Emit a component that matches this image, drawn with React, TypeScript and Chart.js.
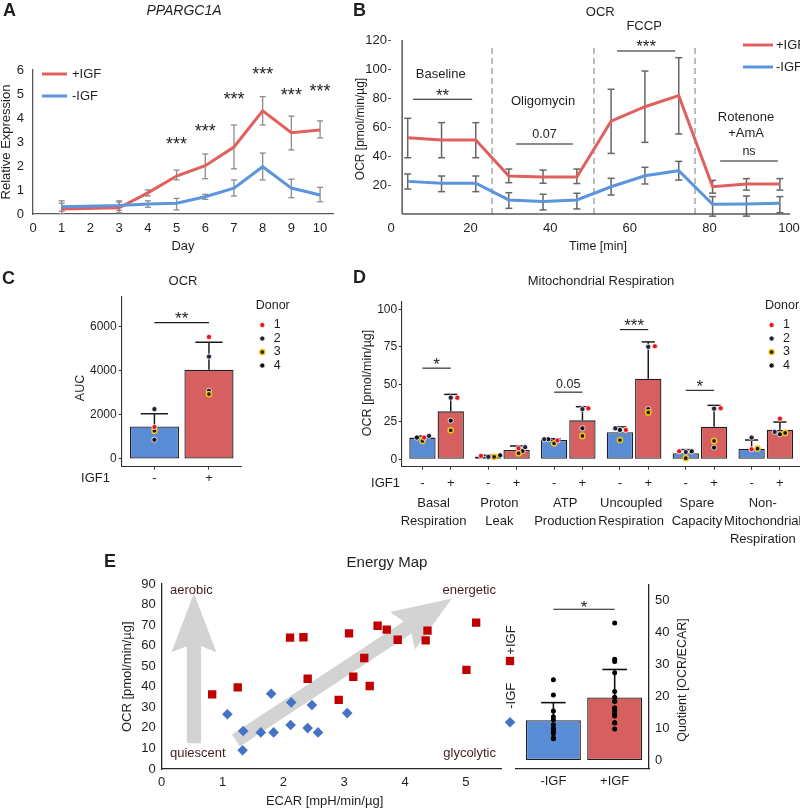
import React, { useEffect, useRef } from 'react';
import { Chart, registerables } from 'chart.js';

Chart.register(...registerables);

const FONT = 'Arial, "Liberation Sans", Helvetica, sans-serif';
const INK = '#1f1f1f';
const AXIS_GRAY = '#595959';
const LINE_RED = '#e0605e';
const LINE_BLUE = '#5b95dc';
const BAR_RED = '#d65f5f';
const BAR_BLUE = '#5a8cd6';
const BAR_EDGE = '#202020';
const SQ_RED = '#c00000';
const DIA_BLUE = '#4472c4';
const ARROW_GRAY = '#d3d3d3';
const CORNER_TXT = '#3d1f1f';

/* ---------------- Panel A : PPARGC1A ---------------- */
const aDays = [1, 3, 4, 5, 6, 7, 8, 9, 10];
const aPlus = [0.21, 0.26, 0.88, 1.58, 2.01, 2.79, 4.3, 3.39, 3.5];
const aPlusLo = [0.02, 0.05, 0.75, 1.42, 1.47, 1.88, 3.71, 2.67, 3.17];
const aPlusHi = [0.45, 0.5, 1.0, 1.83, 2.5, 3.71, 4.89, 4.08, 3.88];
const aMinus = [0.3, 0.35, 0.42, 0.45, 0.72, 1.08, 1.97, 1.08, 0.79];
const aMinusLo = [0.12, 0.15, 0.28, 0.17, 0.61, 0.75, 1.42, 0.68, 0.51];
const aMinusHi = [0.55, 0.55, 0.55, 0.65, 0.82, 1.42, 2.54, 1.45, 1.11];
const aXTicks = [0, 1, 2, 3, 4, 5, 6, 7, 8, 9, 10];
const aYTicks = [0, 1, 2, 3, 4, 5, 6];
const aStarDays = [5, 6, 7, 8, 9, 10];
const aStarLevel = [3.08, 3.63, 4.96, 6.0, 5.13, 5.29];

/* ---------------- Panel B : OCR time course ---------------- */
const bTime = [4.2, 12.7, 21.3, 29.6, 38.2, 46.7, 55.3, 63.8, 72.3, 80.8, 89.3, 97.7];
const bPlus = [52.6, 51, 51, 26.2, 25.5, 25.5, 64, 74, 81.6, 18.8, 20.7, 20.7];
const bPlusLo = [38.8, 38.8, 38.8, 21.6, 21.2, 21, 41.8, 49.4, 55.2, 14.4, 16.5, 16.5];
const bPlusHi = [66, 63, 63, 31, 30.3, 31, 86, 98.6, 107.8, 23.2, 24.4, 24.4];
const bMinus = [22.5, 21.2, 21.2, 9.7, 8.7, 9.7, 18.8, 26.4, 29.9, 6.7, 6.9, 7.4];
const bMinusLo = [17.2, 15.4, 15.4, 3.9, 2.8, 3.5, 13.1, 20.7, 23.4, -1.5, -1.5, 0.9];
const bMinusHi = [27.6, 26.2, 26.2, 14.7, 13.6, 14.3, 24.6, 32.2, 36.3, 12, 12.4, 12];
const bInjections = [25.4, 51, 76.4];
const bXTicks = [0, 20, 40, 60, 80, 100];
const bYTicks = [20, 40, 60, 80, 100, 120];
const bAxisStart = 2.8;
const bPhaseNames = ['Baseline', 'Oligomycin', 'FCCP', 'Rotenone', '+AmA'];
const bPhaseX = [12.5, 38.2, 63.6, 89.2, 89.2];
const bPhaseY = [96.6, 77.9, 129.7, 66.9, 55.9];
const bSigLabels = ['**', '0.07', '***', 'ns'];
const bSigFrom = [5.5, 31.4, 56.8, 82.7];
const bSigTo = [20.4, 45.7, 71.4, 97.2];
const bSigLevel = [79.1, 48.3, 112.4, 36.6];

/* ---------------- Donors (C, D) ---------------- */
const donors = ['1', '2', '3', '4'];
const donorFill = ['#e8161b', '#22223a', '#1a1a1a', '#111111'];
const donorRing = ['#ffffff', '#ffffff', '#f2c511', '#ffffff'];
const donorRingW = [0.8, 0.8, 1.5, 0.8];

/* ---------------- Panel C : AUC ---------------- */
const cGroups = ['-', '+'];
const cMean = [1475, 4040];
const cUpper = [2050, 5290];
const cDonorMinus = [1450, 2260, 1280, 870];
const cDonorPlus = [5530, 4640, 2940, 3090];
const cYTicks = [0, 2000, 4000, 6000];
const cSigLabel = '**';
const cSigLevel = 6180;

/* ---------------- Panel D : Mitochondrial respiration ---------------- */
const dCategories = [
  ['Basal', 'Respiration'],
  ['Proton', 'Leak'],
  ['ATP', 'Production'],
  ['Uncoupled', 'Respiration'],
  ['Spare', 'Capacity'],
  ['Non-', 'Mitochondrial', 'Respiration'],
];
const dMeanMinus = [14.4, 1.8, 12.8, 18, 4, 7];
const dUpperMinus = [15.4, 2.6, 13.6, 21.5, 6.4, 12.8];
const dMeanPlus = [31.9, 6.2, 25.9, 53.6, 21.7, 19.7];
const dUpperPlus = [43.2, 8.8, 35, 78.2, 35.9, 24.8];
const dDonorMinus = [
  [14.4, 15.5, 12.2, 14.4],
  [2.2, 1.6, 1.6, 2.6],
  [12.4, 13.3, 10.6, 13.3],
  [19.5, 20.6, 12.8, 19.5],
  [5.3, 4.8, 0.7, 5.3],
  [6.6, 14.4, 7, null],
];
const dDonorPlus = [
  [41, 41, 19.3, 25.7],
  [7.3, 8, 4, 5.5],
  [33.9, 33.4, 15.5, 20.6],
  [75.3, 74.9, 31.2, 33.4],
  [34, 33.7, 12.2, 7.7],
  [27, 18.2, 17.5, 16.6],
];
const dJitterMinus = [
  [0.026, 0.1, 0, -0.085],
  [-0.11, 0, 0.09, 0.18],
  [0.05, -0.15, 0, -0.09],
  [0.09, -0.07, 0, 0],
  [-0.1, 0, 0, 0.09],
  [0, 0, 0.09, 0],
];
const dJitterPlus = [
  [0.1, 0, 0, 0],
  [0.03, 0.13, 0.03, 0.09],
  [0.09, 0, 0, 0],
  [0.1, 0, 0, 0],
  [0.1, 0, 0, 0],
  [0, -0.08, 0.08, 0],
];
const dYTicks = [0, 25, 50, 75, 100];
const dSigGroups = [0, 2, 3, 4];
const dSigLabels = ['*', '0.05', '***', '*'];
const dSigLevel = [60.7, 44.7, 86.4, 45.9];
const D_DODGE = 0.215;

/* ---------------- Panel E : Energy map ---------------- */
const eEcarPlus = [0.83, 1.25, 2.11, 2.33, 2.4, 2.91, 3.08, 3.15, 3.33, 3.42, 3.55, 3.7, 3.88, 4.34, 4.37, 5.01, 5.17];
const eOcrPlus = [36.3, 39.7, 63.9, 64.1, 43.9, 33.6, 66.0, 44.9, 54.0, 40.4, 69.7, 67.8, 62.9, 62.6, 67.3, 48.2, 71.2];
const eEcarMinus = [1.08, 1.34, 1.33, 1.63, 1.84, 1.8, 2.12, 2.13, 2.47, 2.4, 2.57, 3.05];
const eOcrMinus = [26.6, 18.5, 9.1, 17.8, 17.8, 36.6, 21.4, 32.4, 31.1, 19.9, 17.8, 27.2];
const eXTicks = [0, 1, 2, 3, 4, 5];
const eYTicks = [0, 10, 20, 30, 40, 50, 60, 70, 80, 90];
const eArrowFromX = [0.53, 1.22];
const eArrowFromY = [12.5, 13.9];
const eArrowToX = [0.53, 4.77];
const eArrowToY = [85.5, 83.0];
const eGroups = ['-IGF', '+IGF'];
const eQuotMinus = [25.2, 20.4, 15.4, 13.6, 12.6, 11.1, 10.0, 9.7, 9.0, 8.2, 6.9, 6.7];
const eQuotPlus = [43, 31.6, 30.9, 27.4, 21.5, 19.7, 18.4, 18.4, 16.3, 16.3, 15.5, 14.5, 14.3, 13.8, 11.8, 11.6, 9.7];
const eQuotMean = [12.5, 19.6];
const eQuotUpper = [18.0, 28.4];
const eQYTicks = [0, 10, 20, 30, 40, 50];
const eSigLabel = '*';
const eSigLevel = 47.3;

/* ---------------- helpers ---------------- */
type TOpt = { size?: number; weight?: string; style?: string; align?: CanvasTextAlign; base?: CanvasTextBaseline; color?: string; rot?: number };
function txt(ctx: CanvasRenderingContext2D, s: string, x: number, y: number, o: TOpt = {}) {
  ctx.save();
  ctx.font = `${o.style || 'normal'} ${o.weight || 'normal'} ${o.size || 13}px ${FONT}`;
  ctx.fillStyle = o.color || INK;
  ctx.textAlign = o.align || 'center';
  ctx.textBaseline = o.base || 'middle';
  ctx.translate(x, y);
  if (o.rot) ctx.rotate(o.rot);
  ctx.fillText(s, 0, 0);
  ctx.restore();
}
function star(ctx: CanvasRenderingContext2D, s: string, cx: number, cy: number, size = 17) {
  txt(ctx, s, cx, cy + 0.57 * size, { size, base: 'alphabetic' });
}
function seg(ctx: CanvasRenderingContext2D, x1: number, y1: number, x2: number, y2: number, color: string, lw: number, dash?: number[]) {
  ctx.save();
  ctx.strokeStyle = color;
  ctx.lineWidth = lw;
  if (dash) ctx.setLineDash(dash);
  ctx.beginPath();
  ctx.moveTo(x1, y1);
  ctx.lineTo(x2, y2);
  ctx.stroke();
  ctx.restore();
}
function errBoth(ctx: CanvasRenderingContext2D, x: number, yTop: number, yBot: number, cap: number, color: string, lw: number) {
  seg(ctx, x, yTop, x, yBot, color, lw);
  seg(ctx, x - cap / 2, yTop, x + cap / 2, yTop, color, lw);
  seg(ctx, x - cap / 2, yBot, x + cap / 2, yBot, color, lw);
}
function errUp(ctx: CanvasRenderingContext2D, x: number, yMean: number, yTop: number, cap: number, color: string, lw: number) {
  seg(ctx, x, yMean, x, yTop, color, lw);
  seg(ctx, x - cap / 2, yTop, x + cap / 2, yTop, color, lw);
}
function sig(ctx: CanvasRenderingContext2D, label: string, x1: number, x2: number, y: number, gap: number, size = 17) {
  seg(ctx, x1, y, x2, y, '#1a1a1a', 1.1);
  if (/^\*+$/.test(label)) star(ctx, label, (x1 + x2) / 2, y - gap, size);
  else txt(ctx, label, (x1 + x2) / 2, y - gap, { size: 12.5 });
}
function arrow(ctx: CanvasRenderingContext2D, x1: number, y1: number, x2: number, y2: number, shaft: number, headLen: number, headW: number, notch: number, color: string) {
  const dx = x2 - x1, dy = y2 - y1;
  const L = Math.hypot(dx, dy);
  const ux = dx / L, uy = dy / L;
  const nx = -uy, ny = ux;
  const bx = x2 - ux * headLen, by = y2 - uy * headLen;
  const sx = bx + ux * notch, sy = by + uy * notch;
  ctx.save();
  ctx.fillStyle = color;
  ctx.beginPath();
  ctx.moveTo(x1 + nx * shaft / 2, y1 + ny * shaft / 2);
  ctx.lineTo(sx + nx * shaft / 2, sy + ny * shaft / 2);
  ctx.lineTo(bx + nx * headW / 2, by + ny * headW / 2);
  ctx.lineTo(x2, y2);
  ctx.lineTo(bx - nx * headW / 2, by - ny * headW / 2);
  ctx.lineTo(sx - nx * shaft / 2, sy - ny * shaft / 2);
  ctx.lineTo(x1 - nx * shaft / 2, y1 - ny * shaft / 2);
  ctx.closePath();
  ctx.fill();
  ctx.restore();
}
function dot(ctx: CanvasRenderingContext2D, x: number, y: number, d: number) {
  ctx.save();
  ctx.beginPath();
  ctx.arc(x, y, 2.6, 0, Math.PI * 2);
  ctx.fillStyle = donorFill[d];
  ctx.fill();
  ctx.lineWidth = donorRingW[d];
  ctx.strokeStyle = donorRing[d];
  ctx.stroke();
  ctx.restore();
}

type AxOpt = { min: number; max: number; ticks: number[]; labels?: string[]; size: number; pad: number; font?: number; border?: string; borderWidth?: number; tickLen?: number; position?: string };
function linAxis(o: AxOpt) {
  return {
    type: 'linear',
    position: o.position,
    min: o.min,
    max: o.max,
    offset: false,
    afterBuildTicks: (s: any) => { s.ticks = o.ticks.map((v) => ({ value: v })); },
    afterFit: (s: any) => {
      if (s.isHorizontal()) s.height = o.size; else s.width = o.size;
      s.paddingLeft = 0; s.paddingRight = 0; s.paddingTop = 0; s.paddingBottom = 0;
    },
    grid: o.tickLen
      ? { display: true, drawOnChartArea: false, drawTicks: true, tickLength: o.tickLen, color: o.border || INK, lineWidth: 1, offset: false }
      : { display: false, drawTicks: false, offset: false },
    border: o.border ? { display: true, color: o.border, width: o.borderWidth || 1.1 } : { display: false },
    ticks: {
      padding: o.pad,
      autoSkip: false,
      maxRotation: 0,
      minRotation: 0,
      color: INK,
      font: { family: FONT, size: o.font || 13 },
      callback: (v: any, i: number) => (o.labels ? o.labels[i] : String(v)),
    },
  };
}
const base = {
  responsive: false,
  animation: false,
  events: [],
  plugins: { legend: { display: false }, tooltip: { enabled: false }, title: { display: false } },
};

/* ---------------- builders ---------------- */
function buildA() {
  const ann = {
    id: 'annA',
    beforeDatasetsDraw(chart: any) {
      const { ctx, scales: { x, y } } = chart;
      aDays.forEach((d, i) => {
        const px = x.getPixelForValue(d);
        errBoth(ctx, px, y.getPixelForValue(aPlusHi[i]), y.getPixelForValue(aPlusLo[i]), 6, '#8c8c8c', 1.3);
        errBoth(ctx, px, y.getPixelForValue(aMinusHi[i]), y.getPixelForValue(aMinusLo[i]), 6, '#8c8c8c', 1.3);
      });
    },
    afterDraw(chart: any) {
      const { ctx, scales: { x, y }, chartArea } = chart;
      aStarDays.forEach((d, i) => star(ctx, '***', x.getPixelForValue(d), y.getPixelForValue(aStarLevel[i]), 18));
      txt(ctx, 'A', 3, 11, { size: 18, weight: 'bold', align: 'left' });
      txt(ctx, 'PPARGC1A', 184, 11.5, { size: 14, style: 'italic' });
      seg(ctx, 42, 74, 67, 74, LINE_RED, 3);
      txt(ctx, '+IGF', 72, 74, { align: 'left' });
      seg(ctx, 42, 96, 67, 96, LINE_BLUE, 3);
      txt(ctx, '-IGF', 72, 96, { align: 'left' });
      txt(ctx, 'Day', (chartArea.left + chartArea.right) / 2, 246.7);
      txt(ctx, 'Relative Expression', 6, 142, { rot: -Math.PI / 2 });
    },
  };
  return {
    type: 'line',
    data: {
      datasets: [
        { label: '+IGF', data: aDays.map((d, i) => ({ x: d, y: aPlus[i] })), borderColor: LINE_RED, borderWidth: 3, pointRadius: 0, tension: 0, order: 1 },
        { label: '-IGF', data: aDays.map((d, i) => ({ x: d, y: aMinus[i] })), borderColor: LINE_BLUE, borderWidth: 3, pointRadius: 0, tension: 0, order: 0 },
      ],
    },
    options: {
      ...base,
      layout: { padding: { left: 0, top: 70, right: 27, bottom: 21 } },
      scales: {
        x: linAxis({ min: 0, max: 10.45, ticks: aXTicks, size: 25, pad: 7, border: AXIS_GRAY, borderWidth: 1.3 }),
        y: linAxis({ min: 0, max: 6, ticks: aYTicks, size: 33, pad: 9, border: AXIS_GRAY, borderWidth: 1.3 }),
      },
    },
    plugins: [ann],
  };
}

function buildB() {
  const ann = {
    id: 'annB',
    beforeDatasetsDraw(chart: any) {
      const { ctx, scales: { x, y } } = chart;
      bInjections.forEach((t) => {
        const px = x.getPixelForValue(t);
        seg(ctx, px, y.getPixelForValue(0), px, y.getPixelForValue(115.4), '#9a9a9a', 1.3, [6, 4]);
      });
      bTime.forEach((t, i) => {
        const px = x.getPixelForValue(t);
        errBoth(ctx, px, y.getPixelForValue(bPlusHi[i]), y.getPixelForValue(bPlusLo[i]), 7, '#666666', 1.5);
        errBoth(ctx, px, y.getPixelForValue(bMinusHi[i]), y.getPixelForValue(bMinusLo[i]), 7, '#666666', 1.5);
      });
    },
    afterDraw(chart: any) {
      const { ctx, scales: { x, y } } = chart;
      const x0 = x.getPixelForValue(bAxisStart);
      seg(ctx, x0, y.getPixelForValue(0), x0, y.getPixelForValue(120), AXIS_GRAY, 1.5);
      seg(ctx, x0, y.getPixelForValue(0), x.getPixelForValue(100.3), y.getPixelForValue(0), AXIS_GRAY, 1.5);
      bPhaseNames.forEach((n, i) => txt(ctx, n, x.getPixelForValue(bPhaseX[i]), y.getPixelForValue(bPhaseY[i])));
      bSigLabels.forEach((l, i) => {
        const ly = y.getPixelForValue(bSigLevel[i]);
        sig(ctx, l, x.getPixelForValue(bSigFrom[i]), x.getPixelForValue(bSigTo[i]), ly, /^\*+$/.test(l) ? 8.3 : 9.5);
      });
      txt(ctx, 'B', 8, 11, { size: 18, weight: 'bold', align: 'left' });
      txt(ctx, 'OCR', 255.3, 12, { size: 13 });
      txt(ctx, 'OCR [pmol/min/µg]', 16, 129, { size: 12, rot: -Math.PI / 2 });
      txt(ctx, 'Time [min]', 253, 246.7, { size: 12.5 });
      seg(ctx, 398, 45, 428, 45, LINE_RED, 3);
      txt(ctx, '+IGF', 431, 45, { align: 'left' });
      seg(ctx, 398, 67, 428, 67, LINE_BLUE, 3);
      txt(ctx, '-IGF', 431, 67, { align: 'left' });
    },
  };
  return {
    type: 'line',
    data: {
      datasets: [
        { label: '+IGF', data: bTime.map((t, i) => ({ x: t, y: bPlus[i] })), borderColor: LINE_RED, borderWidth: 3, pointRadius: 0, tension: 0, order: 1 },
        { label: '-IGF', data: bTime.map((t, i) => ({ x: t, y: bMinus[i] })), borderColor: LINE_BLUE, borderWidth: 3, pointRadius: 0, tension: 0, order: 0 },
      ],
    },
    options: {
      ...base,
      layout: { padding: { left: 0, top: 40, right: 36, bottom: 21 } },
      scales: {
        x: linAxis({ min: 0, max: 100, ticks: bXTicks, size: 25, pad: 7 }),
        y: { ...linAxis({ min: 0, max: 120, ticks: bYTicks, size: 46, pad: 1, tickLen: 3 }), border: { display: false }, grid: { display: true, drawOnChartArea: false, drawTicks: true, tickLength: 3, color: AXIS_GRAY, lineWidth: 1 } },
      },
    },
    plugins: [ann],
  };
}

function dotSet(d: number, data: any[]) {
  return {
    type: 'scatter',
    data,
    pointRadius: 2.6,
    pointBackgroundColor: donorFill[d],
    pointBorderColor: donorRing[d],
    pointBorderWidth: donorRingW[d],
    backgroundColor: donorFill[d],
    borderColor: donorRing[d],
    order: 0,
  };
}

function donorLegend(ctx: CanvasRenderingContext2D, x: number, y: number) {
  txt(ctx, 'Donor', x, y, { align: 'left', size: 12.5 });
  donors.forEach((n, d) => {
    const yy = y + 19 + d * 13.5;
    dot(ctx, x + 6.6, yy, d);
    txt(ctx, n, x + 18, yy, { align: 'left', size: 12.5 });
  });
}

function buildC() {
  const datasets: any[] = [
    {
      type: 'bar',
      data: cMean.map((m, i) => ({ x: i + 1, y: m })),
      backgroundColor: [BAR_BLUE, BAR_RED],
      borderColor: BAR_EDGE,
      borderWidth: 1.3,
      borderSkipped: false,
      barPercentage: 0.9,
      categoryPercentage: 1,
      order: 5,
    },
  ];
  donors.forEach((_, d) => datasets.push(dotSet(d, [{ x: 1, y: cDonorMinus[d] }, { x: 2, y: cDonorPlus[d] }])));
  const ann = {
    id: 'annC',
    afterDatasetDraw(chart: any, args: any) {
      if (args.index !== 0) return;
      const { ctx, scales: { x, y } } = chart;
      cMean.forEach((m, i) => {
        const cap = x.getPixelForValue(i + 1.25) - x.getPixelForValue(i + 0.75);
        errUp(ctx, x.getPixelForValue(i + 1), y.getPixelForValue(m), y.getPixelForValue(cUpper[i]), cap, '#1a1a1a', 1.5);
      });
    },
    afterDraw(chart: any) {
      const { ctx, scales: { x, y }, chartArea } = chart;
      sig(ctx, cSigLabel, x.getPixelForValue(1), x.getPixelForValue(2), y.getPixelForValue(cSigLevel), 8.7);
      txt(ctx, 'C', 2, 19, { size: 18, weight: 'bold', align: 'left' });
      txt(ctx, 'OCR', 183, 21.3, { size: 13 });
      txt(ctx, 'AUC', 81, 128, { size: 12.5, rot: -Math.PI / 2 });
      txt(ctx, 'IGF1', 110, chartArea.bottom + 11.5, { align: 'right', size: 13 });
      donorLegend(ctx, 255.7, 46);
    },
  };
  return {
    type: 'bar',
    data: { datasets },
    options: {
      ...base,
      layout: { padding: { left: 0, top: 37, right: 103.3, bottom: 8.3 } },
      scales: {
        x: linAxis({ min: 0.4, max: 2.6, ticks: [1, 2], labels: cGroups, size: 25, pad: 0.5, border: '#333333', tickLen: 3, font: 13 }),
        y: linAxis({ min: -350, max: 7340, ticks: cYTicks, size: 121.7, pad: 2, border: '#333333', tickLen: 3, font: 12 }),
      },
    },
    plugins: [ann],
  };
}

const dPos = (g: number, side: number) => g + 1 + (side ? D_DODGE : -D_DODGE);

function buildD() {
  const barData: any[] = [];
  const barColors: string[] = [];
  const tickPos: number[] = [];
  const tickLab: string[] = [];
  dCategories.forEach((_, g) => {
    barData.push({ x: dPos(g, 0), y: dMeanMinus[g] }, { x: dPos(g, 1), y: dMeanPlus[g] });
    barColors.push(BAR_BLUE, BAR_RED);
    tickPos.push(dPos(g, 0), dPos(g, 1));
    tickLab.push('-', '+');
  });
  const datasets: any[] = [
    {
      type: 'bar',
      data: barData,
      backgroundColor: barColors,
      borderColor: BAR_EDGE,
      borderWidth: 1.3,
      borderSkipped: false,
      barPercentage: 0.93,
      categoryPercentage: 1,
      order: 5,
    },
  ];
  donors.forEach((_, d) => {
    const pts: any[] = [];
    dCategories.forEach((__, g) => {
      const vm = dDonorMinus[g][d];
      if (vm !== null && vm !== undefined) pts.push({ x: dPos(g, 0) + dJitterMinus[g][d], y: vm });
      const vp = dDonorPlus[g][d];
      if (vp !== null && vp !== undefined) pts.push({ x: dPos(g, 1) + dJitterPlus[g][d], y: vp });
    });
    datasets.push(dotSet(d, pts));
  });
  const ann = {
    id: 'annD',
    afterDatasetDraw(chart: any, args: any) {
      if (args.index !== 0) return;
      const { ctx, scales: { x, y } } = chart;
      dCategories.forEach((_, g) => {
        [0, 1].forEach((side) => {
          const c = dPos(g, side);
          const cap = x.getPixelForValue(c + 0.1) - x.getPixelForValue(c - 0.1);
          const m = side ? dMeanPlus[g] : dMeanMinus[g];
          const u = side ? dUpperPlus[g] : dUpperMinus[g];
          errUp(ctx, x.getPixelForValue(c), y.getPixelForValue(m), y.getPixelForValue(u), cap, '#1a1a1a', 1.5);
        });
      });
    },
    afterDraw(chart: any) {
      const { ctx, scales: { x, y }, chartArea } = chart;
      dSigGroups.forEach((g, i) => {
        sig(ctx, dSigLabels[i], x.getPixelForValue(dPos(g, 0)), x.getPixelForValue(dPos(g, 1)), y.getPixelForValue(dSigLevel[i]), 8);
      });
      dCategories.forEach((lines, g) => {
        const cx = x.getPixelForValue(g + 1) - 3;
        lines.forEach((ln, k) => txt(ctx, ln, cx, chartArea.bottom + 36.3 + k * 18, { size: 13 }));
      });
      txt(ctx, 'D', 8, 18, { size: 18, weight: 'bold', align: 'left' });
      txt(ctx, 'Mitochondrial Respiration', 256, 21, { size: 13 });
      txt(ctx, 'OCR [pmol/min/µg]', 22.5, 123, { size: 12.5, rot: -Math.PI / 2 });
      txt(ctx, 'IGF1', 55, chartArea.bottom + 16.3, { align: 'right', size: 13 });
      donorLegend(ctx, 420, 46);
    },
  };
  return {
    type: 'bar',
    data: { datasets },
    options: {
      ...base,
      layout: { padding: { left: 0, top: 41.7, right: 25, bottom: 68.3 } },
      scales: {
        x: linAxis({ min: 0.47, max: 6.52, ticks: tickPos, labels: tickLab, size: 25, pad: 5.5, border: '#333333', tickLen: 3, font: 13 }),
        y: linAxis({ min: -5, max: 105, ticks: dYTicks, size: 56.7, pad: 1.5, border: '#333333', tickLen: 3, font: 12 }),
      },
    },
    plugins: [ann],
  };
}

function buildE1() {
  const ann = {
    id: 'annE1',
    beforeDatasetsDraw(chart: any) {
      const { ctx, scales: { x, y } } = chart;
      eArrowFromX.forEach((fx, i) => {
        arrow(ctx, x.getPixelForValue(fx), y.getPixelForValue(eArrowFromY[i]), x.getPixelForValue(eArrowToX[i]), y.getPixelForValue(eArrowToY[i]), 14.3, 59, 45, 6, ARROW_GRAY);
      });
    },
    afterDraw(chart: any) {
      const { ctx, chartArea } = chart;
      txt(ctx, 'E', 104, 22.5, { size: 18, weight: 'bold', align: 'left' });
      txt(ctx, 'Energy Map', 387, 23, { size: 15 });
      txt(ctx, 'aerobic', chartArea.left + 8.3, chartArea.top + 6, { align: 'left', color: CORNER_TXT });
      txt(ctx, 'energetic', chartArea.right - 5.7, chartArea.top + 6, { align: 'right', color: CORNER_TXT });
      txt(ctx, 'quiescent', chartArea.left + 8.3, chartArea.bottom - 15.7, { align: 'left', color: CORNER_TXT });
      txt(ctx, 'glycolytic', chartArea.right - 5.7, chartArea.bottom - 15.7, { align: 'right', color: CORNER_TXT });
      txt(ctx, 'ECAR [mpH/min/µg]', 324.6, 261, { size: 13 });
      txt(ctx, 'OCR [pmol/min/µg]', 127, 136.7, { size: 13, rot: -Math.PI / 2 });
      txt(ctx, '+IGF', 511, 100, { size: 13, rot: -Math.PI / 2 });
      ctx.save();
      ctx.fillStyle = SQ_RED;
      ctx.fillRect(510 - 4.15, 121 - 4.15, 8.3, 8.3);
      ctx.fillStyle = DIA_BLUE;
      ctx.beginPath();
      ctx.moveTo(510, 182.3 - 5.3);
      ctx.lineTo(515.3, 182.3);
      ctx.lineTo(510, 182.3 + 5.3);
      ctx.lineTo(504.7, 182.3);
      ctx.closePath();
      ctx.fill();
      ctx.restore();
      txt(ctx, '-IGF', 511, 155.8, { size: 13, rot: -Math.PI / 2 });
    },
  };
  return {
    type: 'scatter',
    data: {
      datasets: [
        { label: '+IGF', data: eEcarPlus.map((v, i) => ({ x: v, y: eOcrPlus[i] })), pointStyle: 'rect', pointRadius: 5.9, pointBorderWidth: 0, backgroundColor: SQ_RED, pointBackgroundColor: SQ_RED, borderColor: SQ_RED, order: 1 },
        { label: '-IGF', data: eEcarMinus.map((v, i) => ({ x: v, y: eOcrMinus[i] })), pointStyle: 'rectRot', pointRadius: 5.3, pointBorderWidth: 0, backgroundColor: DIA_BLUE, pointBackgroundColor: DIA_BLUE, borderColor: DIA_BLUE, order: 0 },
      ],
    },
    options: {
      ...base,
      layout: { padding: { left: 0, top: 44, right: 18.3, bottom: 14 } },
      scales: {
        x: linAxis({ min: 0, max: 5.59, ticks: eXTicks, size: 25, pad: 5.5, border: '#262626', borderWidth: 1.3, font: 13 }),
        y: linAxis({ min: 0, max: 90, ticks: eYTicks, size: 161.7, pad: 6, border: '#262626', borderWidth: 1.3, font: 13 }),
      },
    },
    plugins: [ann],
  };
}

function buildE2() {
  const pts: any[] = [];
  eQuotMinus.forEach((v) => pts.push({ x: 1, y: v }));
  eQuotPlus.forEach((v) => pts.push({ x: 2, y: v }));
  const ann = {
    id: 'annE2',
    afterDatasetDraw(chart: any, args: any) {
      if (args.index !== 0) return;
      const { ctx, scales: { x, y } } = chart;
      eQuotMean.forEach((m, i) => {
        const cap = x.getPixelForValue(i + 1.2) - x.getPixelForValue(i + 0.8);
        errUp(ctx, x.getPixelForValue(i + 1), y.getPixelForValue(m), y.getPixelForValue(eQuotUpper[i]), cap, '#111111', 1.6);
      });
    },
    afterDraw(chart: any) {
      const { ctx, scales: { x, y } } = chart;
      sig(ctx, eSigLabel, x.getPixelForValue(1), x.getPixelForValue(2), y.getPixelForValue(eSigLevel), 6.3);
      txt(ctx, 'Quotient [OCR/ECAR]', 178, 140, { size: 12.5, rot: -Math.PI / 2 });
    },
  };
  return {
    type: 'bar',
    data: {
      datasets: [
        {
          type: 'bar',
          data: eQuotMean.map((m, i) => ({ x: i + 1, y: m })),
          backgroundColor: [BAR_BLUE, BAR_RED],
          borderColor: BAR_EDGE,
          borderWidth: 1.3,
          borderSkipped: false,
          barPercentage: 0.897,
          categoryPercentage: 1,
          order: 5,
        },
        { type: 'scatter', data: pts, pointRadius: 2.5, pointBorderWidth: 0, backgroundColor: '#000000', pointBackgroundColor: '#000000', borderColor: '#000000', order: 0 },
      ],
    },
    options: {
      ...base,
      layout: { padding: { left: 11, top: 45, right: 111, bottom: 14.7 } },
      scales: {
        x: linAxis({ min: 0.39, max: 2.56, ticks: [1, 2], labels: eGroups, size: 25, pad: 5.6, border: '#262626', borderWidth: 1.3, font: 13 }),
        y: linAxis({ min: -2.6, max: 54.9, ticks: eQYTicks, size: 40, pad: 6, border: '#262626', borderWidth: 1.3, font: 13, position: 'right' }),
      },
    },
    plugins: [ann],
  };
}

/* ---------------- components ---------------- */
function Panel({ left, top, width, height, build }: { left: number; top: number; width: number; height: number; build: () => any }) {
  const ref = useRef<HTMLCanvasElement | null>(null);
  useEffect(() => {
    if (!ref.current) return;
    const chart = new Chart(ref.current, build());
    return () => chart.destroy();
  }, []);
  return (
    <div style={{ position: 'absolute', left, top, width, height }}>
      <canvas ref={ref} width={width} height={height} style={{ display: 'block', width, height }} />
    </div>
  );
}

export default function App() {
  return (
    <div style={{ position: 'relative', width: 800, height: 808, overflow: 'hidden', background: '#ffffff' }}>
      <style>{'html,body{margin:0;padding:0;background:#ffffff;}'}</style>
      <Panel left={0} top={0} width={360} height={260} build={buildA} />
      <Panel left={345} top={0} width={480} height={260} build={buildB} />
      <Panel left={0} top={260} width={345} height={240} build={buildC} />
      <Panel left={345} top={260} width={480} height={300} build={buildD} />
      <Panel left={0} top={540} width={520} height={268} build={buildE1} />
      <Panel left={505} top={540} width={295} height={268} build={buildE2} />
    </div>
  );
}
